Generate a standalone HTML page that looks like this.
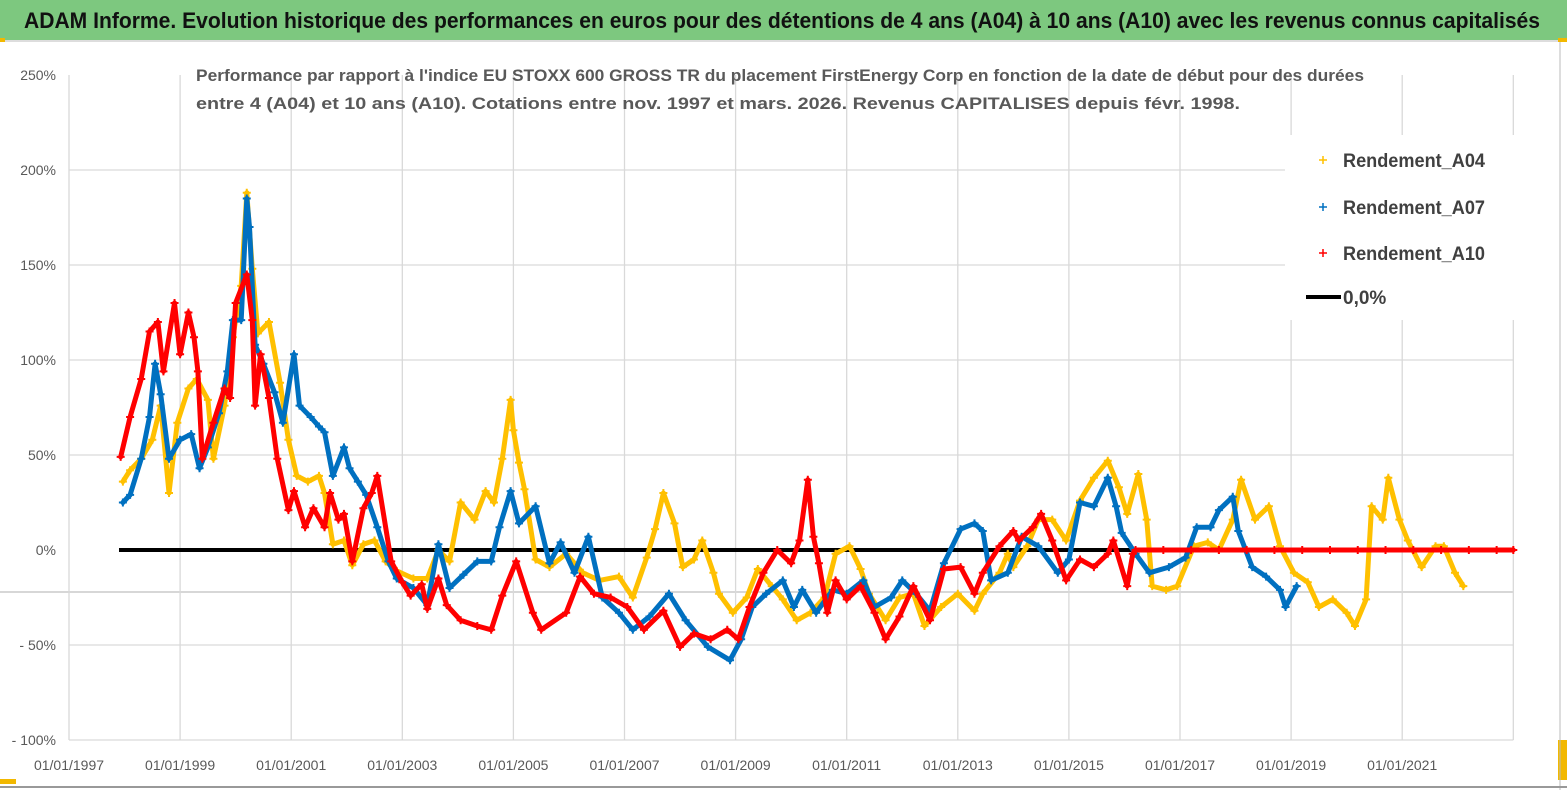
<!DOCTYPE html>
<html><head><meta charset="utf-8">
<style>
html,body{margin:0;padding:0;background:#fff;}
body{width:1567px;height:790px;overflow:hidden;position:relative;font-family:"Liberation Sans",sans-serif;}
#hdr{position:absolute;left:0;top:0;width:1567px;height:40px;background:#7dc87f;border-bottom:2px solid #ddd;}
</style></head>
<body>
<div id="hdr"></div>
<svg id="chart" width="1567" height="790" style="position:absolute;left:0;top:0">
<text x="24" y="28" font-size="22" font-weight="bold" fill="#111" textLength="1516" lengthAdjust="spacingAndGlyphs">ADAM Informe. Evolution historique des performances en euros pour des détentions de 4 ans (A04) à 10 ans (A10) avec les revenus connus capitalisés</text>
<rect x="0" y="38" width="5" height="4" fill="#f2b800"/>
<rect x="1558" y="38" width="9" height="4" fill="#f2b800"/>
<rect x="0" y="779" width="16" height="5" fill="#f2b800"/>
<rect x="1558" y="740" width="9" height="40" fill="#f2b800"/>
<line x1="1560" y1="42" x2="1560" y2="790" stroke="#bbb"/>
<line x1="0" y1="787" x2="1567" y2="787" stroke="#999" stroke-width="2"/>
<g id="grid"></g>
<g id="series"></g>
<g id="legend"></g>
<text x="780" y="81" text-anchor="middle" font-size="17" font-weight="bold" fill="#595959" textLength="1168" lengthAdjust="spacingAndGlyphs">Performance par rapport à l'indice EU STOXX 600 GROSS TR  du placement FirstEnergy Corp en fonction de la date de début pour des durées</text>
<text x="718" y="109" text-anchor="middle" font-size="17" font-weight="bold" fill="#595959" textLength="1044" lengthAdjust="spacingAndGlyphs">entre 4 (A04) et 10 ans (A10).  Cotations entre nov. 1997 et mars. 2026. Revenus CAPITALISES depuis févr. 1998.</text>
</svg>
<script>
const yTicks=[250,200,150,100,50,0,-50,-100];
const yTickLabels=["250%","200%","150%","100%","50%","0%","- 50%","- 100%"];
const xTicks=[1997,1999,2001,2003,2005,2007,2009,2011,2013,2015,2017,2019,2021,2023];
const xTickLabels=["01/01/1997","01/01/1999","01/01/2001","01/01/2003","01/01/2005","01/01/2007","01/01/2009","01/01/2011","01/01/2013","01/01/2015","01/01/2017","01/01/2019","01/01/2021",""];
const a04Dates=[1997.97,1998.1,1998.3,1998.5,1998.65,1998.8,1998.95,1999.15,1999.3,1999.5,1999.6,1999.8,1999.95,2000.1,2000.2,2000.3,2000.4,2000.6,2000.8,2000.95,2001.1,2001.3,2001.5,2001.6,2001.75,2001.95,2002.1,2002.3,2002.5,2002.7,2002.9,2003.2,2003.45,2003.65,2003.85,2004.05,2004.3,2004.5,2004.65,2004.8,2004.95,2005.0,2005.1,2005.2,2005.4,2005.65,2005.95,2006.25,2006.55,2006.9,2007.15,2007.4,2007.55,2007.7,2007.9,2008.05,2008.25,2008.4,2008.6,2008.7,2008.95,2009.2,2009.4,2009.65,2009.85,2010.1,2010.35,2010.6,2010.8,2011.05,2011.25,2011.4,2011.7,2011.95,2012.2,2012.4,2012.7,2013.0,2013.3,2013.45,2013.75,2013.9,2014.0,2014.25,2014.45,2014.7,2014.95,2015.2,2015.45,2015.7,2015.9,2016.05,2016.25,2016.4,2016.5,2016.75,2016.95,2017.25,2017.5,2017.7,2017.95,2018.1,2018.35,2018.6,2018.8,2019.05,2019.3,2019.5,2019.75,2020.0,2020.15,2020.35,2020.45,2020.65,2020.75,2020.95,2021.1,2021.35,2021.6,2021.75,2021.95,2022.1];
const a04Values=[36,42,48,58,76,30,67,85,90,79,48,76,112,139,188,148,114,120,88,58,39,36,39,30,3,5,-8,3,5,-6,-11,-15,-15,0,-6,25,16,31,25,48,79,63,46,32,-5,-9,-2,-12,-16,-14,-25,-4,11,30,14,-9,-5,5,-12,-23,-33,-25,-10,-19,-26,-37,-33,-25,-2,2,-10,-23,-37,-25,-23,-40,-30,-23,-32,-23,-12,-2,-9,2,16,16,5,26,38,47,33,19,40,16,-19,-21,-19,2,4,0,16,37,16,23,2,-12,-17,-30,-26,-33,-40,-26,23,16,38,16,5,-9,2,2,-12,-19];
const a07Dates=[1997.97,1998.1,1998.3,1998.45,1998.55,1998.65,1998.8,1999.0,1999.2,1999.35,1999.5,1999.7,1999.85,1999.95,2000.1,2000.2,2000.25,2000.35,2000.5,2000.7,2000.85,2001.05,2001.15,2001.35,2001.5,2001.6,2001.75,2001.95,2002.05,2002.2,2002.35,2002.55,2002.75,2002.9,2003.2,2003.45,2003.65,2003.85,2004.1,2004.35,2004.6,2004.75,2004.95,2005.1,2005.4,2005.65,2005.85,2006.1,2006.35,2006.6,2006.9,2007.15,2007.45,2007.8,2008.1,2008.5,2008.9,2009.1,2009.3,2009.55,2009.85,2010.05,2010.2,2010.45,2010.75,2011.0,2011.3,2011.5,2011.8,2012.0,2012.25,2012.5,2012.75,2013.05,2013.3,2013.45,2013.6,2013.9,2014.15,2014.45,2014.8,2015.0,2015.2,2015.45,2015.7,2015.85,2015.95,2016.2,2016.45,2016.8,2017.1,2017.3,2017.55,2017.7,2017.95,2018.05,2018.3,2018.55,2018.8,2018.9,2019.1];
const a07Values=[25,29,48,70,98,82,48,58,61,43,54,72,94,121,121,185,170,108,98,83,67,103,76,70,65,62,39,54,43,36,29,12,-6,-15,-20,-29,3,-20,-13,-6,-6,12,31,14,23,-7,4,-12,7,-25,-33,-42,-35,-23,-37,-51,-58,-47,-30,-23,-16,-30,-21,-33,-21,-23,-16,-30,-25,-16,-23,-32,-7,11,14,10,-16,-12,7,2,-12,-5,25,23,38,23,9,-2,-12,-9,-4,12,12,21,28,10,-9,-14,-21,-30,-19];
const a10Dates=[1997.93,1998.1,1998.3,1998.45,1998.6,1998.7,1998.9,1999.0,1999.15,1999.25,1999.32,1999.4,1999.6,1999.8,1999.9,2000.0,2000.2,2000.3,2000.35,2000.45,2000.6,2000.75,2000.95,2001.05,2001.25,2001.4,2001.6,2001.7,2001.85,2001.95,2002.1,2002.3,2002.45,2002.55,2002.8,2003.0,2003.15,2003.35,2003.45,2003.65,2003.8,2004.05,2004.35,2004.6,2004.8,2005.05,2005.35,2005.5,2005.95,2006.2,2006.45,2006.75,2007.05,2007.35,2007.7,2008.0,2008.25,2008.55,2008.85,2009.05,2009.25,2009.5,2009.75,2010.0,2010.15,2010.3,2010.4,2010.5,2010.65,2010.8,2011.0,2011.25,2011.5,2011.7,2011.95,2012.2,2012.5,2012.75,2013.05,2013.3,2013.45,2013.75,2014.0,2014.1,2014.35,2014.5,2014.7,2014.95,2015.2,2015.45,2015.7,2015.8,2016.05,2016.15,2016.2,2016.7,2017.2,2017.7,2018.2,2018.7,2019.2,2019.7,2020.2,2020.7,2021.2,2021.7,2022.2,2022.7,2023.0];
const a10Values=[49,70,90,115,120,94,130,103,125,112,94,48,67,85,80,130,145,121,76,103,80,48,21,31,12,22,12,30,16,19,-6,22,30,39,-6,-17,-24,-18,-31,-15,-29,-37,-40,-42,-24,-6,-33,-42,-33,-14,-23,-25,-30,-42,-32,-51,-44,-47,-42,-47,-30,-12,0,-7,5,37,7,-7,-33,-16,-26,-19,-33,-47,-35,-19,-37,-10,-9,-23,-12,2,10,5,12,19,5,-16,-5,-9,-2,5,-19,-2,0,0,0,0,0,0,0,0,0,0,0,0,0,0,0];
const zeroLine=[1997.9,2023.0];

const NS='http://www.w3.org/2000/svg';
const X0=69,PX_PER_YEAR=55.55,Y0=550,PX_PER_PCT=1.9;
function xs(yr){return X0+(yr-1997)*PX_PER_YEAR;}
function ys(v){return Y0-v*PX_PER_PCT;}
function mk(tag,attrs,parent){const e=document.createElementNS(NS,tag);for(const k in attrs)e.setAttribute(k,attrs[k]);parent.appendChild(e);return e;}
const grid=document.getElementById('grid');
yTicks.forEach((v,i)=>{
  if(v!==0&&v!==250){const l=mk('line',{x1:xs(1997),x2:xs(2023),y1:ys(v),y2:ys(v),stroke:'#d9d9d9','stroke-width':1.3},grid);
  
  }
  const t=mk('text',{x:56,y:ys(v)+5,'text-anchor':'end','font-size':14,fill:'#595959'},grid);
  t.textContent=yTickLabels[i];
  
  
});
const gl=mk('line',{x1:0,x2:xs(2023),y1:592,y2:592,stroke:'#bfbfbf','stroke-width':1.3},grid);


xTicks.forEach((yr,i)=>{
  const l=mk('line',{x1:xs(yr),x2:xs(yr),y1:ys(250),y2:ys(-100),stroke:'#d9d9d9','stroke-width':1.3},grid);
  
  
  const t=mk('text',{x:xs(yr),y:770,'text-anchor':'middle','font-size':14,fill:'#595959'},grid);
  t.textContent=xTickLabels[i];
  
  
});
const ser=document.getElementById('series');
const zl=mk('line',{x1:xs(zeroLine[0]),x2:xs(zeroLine[1]),y1:ys(0),y2:ys(0),stroke:'#000','stroke-width':4},ser);


function drawSeries(dates,vals,color,name){
  const g=mk('g',{},ser);
  
  
  const pts=dates.map((d,i)=>xs(d).toFixed(1)+','+ys(vals[i]).toFixed(1)).join(' ');
  mk('polyline',{points:pts,fill:'none',stroke:color,'stroke-width':5,'stroke-linejoin':'round','stroke-linecap':'round'},g);
  dates.forEach((d,i)=>{
    const x=xs(d),y=ys(vals[i]);
    const p=mk('path',{d:`M${x-4},${y}H${x+4}M${x},${y-4}V${y+4}`,stroke:color,'stroke-width':2},g);
    
    
  });
}
drawSeries(a04Dates,a04Values,'#ffc000','series-a04');
drawSeries(a07Dates,a07Values,'#0070c0','series-a07');
drawSeries(a10Dates,a10Values,'#ff0000','series-a10');
const leg=document.getElementById('legend');
const lb=mk('rect',{x:1285,y:135,width:230,height:185,fill:'#fff'},leg);


[['Rendement_A04','#ffc000',160],['Rendement_A07','#0070c0',207],['Rendement_A10','#ff0000',253]].forEach(e=>{
  const m=mk('path',{d:`M1319,${e[2]}h8M1323,${e[2]-4}v8`,stroke:e[1],'stroke-width':1.5},leg);
  
  
  const t=mk('text',{x:1343,y:e[2]+7,'font-size':19,'font-weight':'bold',fill:'#404040',textLength:142,lengthAdjust:'spacingAndGlyphs'},leg);
  t.textContent=e[0];
  
  
});
const ll=mk('line',{x1:1306,x2:1341,y1:297,y2:297,stroke:'#000','stroke-width':4},leg);


const lt=mk('text',{x:1343,y:304,'font-size':19,'font-weight':'bold',fill:'#404040'},leg);
lt.textContent='0,0%';


</script>
</body></html>
